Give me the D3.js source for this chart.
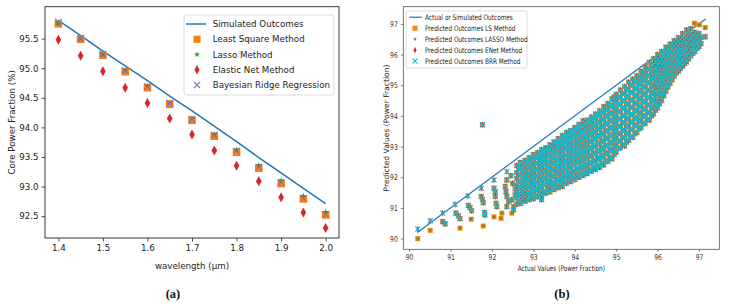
<!DOCTYPE html>
<html>
<head>
<meta charset="utf-8">
<script src="https://cdn.jsdelivr.net/npm/d3@7"></script>
<style>
  body { margin: 0; background: #fff; }
  svg { display: block; }
  text { font-family: "DejaVu Sans", sans-serif; }
</style>
</head>
<body>
<div id="chart"></div>
<script>
// ---- panel (a) data ----
const wavelengths = [1.40, 1.45, 1.50, 1.55, 1.60, 1.65, 1.70, 1.75, 1.80, 1.85, 1.90, 1.95, 2.00];
const simulated   = [95.81, 95.55, 95.29, 95.04, 94.79, 94.53, 94.28, 94.02, 93.76, 93.49, 93.23, 92.97, 92.71];
const leastSquare = [95.75, 95.49, 95.22, 94.94, 94.67, 94.39, 94.12, 93.85, 93.58, 93.31, 93.05, 92.79, 92.52];
const lassoVals   = [95.76, 95.50, 95.23, 94.96, 94.70, 94.42, 94.15, 93.88, 93.62, 93.36, 93.10, 92.84, 92.57];
const elasticNet  = [95.48, 95.21, 94.95, 94.67, 94.41, 94.15, 93.88, 93.61, 93.35, 93.09, 92.82, 92.56, 92.30];
const bayesRidge  = [95.78, 95.51, 95.24, 94.96, 94.69, 94.41, 94.14, 93.87, 93.60, 93.33, 93.07, 92.80, 92.53];
const xTicksA = [1.4, 1.5, 1.6, 1.7, 1.8, 1.9, 2.0];
const yTicksA = [92.5, 93.0, 93.5, 94.0, 94.5, 95.0, 95.5];

// ---- panel (b) data ----
// ideal line (actual = predicted)
const idealLine = [[90.2, 90.2], [97.16, 97.16]];
// dense band: [actual, [predicted...]] where all four methods agree
const bandColumns = [
  [92.60, [91.12, 91.33, 91.55, 91.74, 91.96, 92.15, 92.38]],
  [92.70, [91.15, 91.24, 91.45, 91.66, 91.85, 92.07, 92.27, 92.45]],
  [92.80, [91.22, 91.38, 91.58, 91.79, 91.98, 92.20, 92.40, 92.55]],
  [92.90, [91.27, 91.47, 91.68, 91.88, 92.09, 92.30, 92.48, 92.64]],
  [93.00, [91.30, 91.52, 91.72, 91.95, 92.14, 92.36, 92.55, 92.74]],
  [93.10, [91.36, 91.60, 91.82, 92.03, 92.24, 92.45, 92.64, 92.80]],
  [93.20, [91.27, 91.42, 91.66, 91.88, 92.10, 92.30, 92.52, 92.72, 92.90]],
  [93.30, [91.48, 91.75, 91.96, 92.18, 92.40, 92.60, 92.80, 92.96]],
  [93.40, [91.52, 91.70, 91.90, 92.12, 92.32, 92.52, 92.72, 92.90, 93.05]],
  [93.50, [91.60, 91.82, 92.04, 92.25, 92.46, 92.66, 92.86, 93.06, 93.15]],
  [93.60, [91.66, 91.90, 92.12, 92.34, 92.56, 92.76, 92.96, 93.14, 93.26]],
  [93.70, [91.70, 91.94, 92.18, 92.40, 92.60, 92.82, 93.02, 93.22, 93.36]],
  [93.80, [91.80, 92.02, 92.26, 92.48, 92.70, 92.92, 93.12, 93.30, 93.46]],
  [93.90, [91.86, 92.08, 92.32, 92.54, 92.76, 92.98, 93.20, 93.38, 93.52]],
  [94.00, [91.92, 92.16, 92.40, 92.62, 92.84, 93.06, 93.28, 93.46, 93.62]],
  [94.10, [92.00, 92.24, 92.48, 92.70, 92.92, 93.14, 93.36, 93.56, 93.72]],
  [94.20, [92.06, 92.30, 92.54, 92.78, 93.00, 93.22, 93.44, 93.64, 93.84]],
  [94.30, [92.12, 92.36, 92.60, 92.84, 93.06, 93.30, 93.52, 93.72, 93.86]],
  [94.40, [92.20, 92.44, 92.68, 92.92, 93.16, 93.38, 93.60, 93.80, 93.96]],
  [94.50, [92.26, 92.50, 92.76, 93.00, 93.24, 93.46, 93.68, 93.90, 94.06]],
  [94.60, [92.32, 92.58, 92.84, 93.08, 93.32, 93.56, 93.78, 94.00, 94.16]],
  [94.70, [92.40, 92.66, 92.92, 93.16, 93.40, 93.64, 93.88, 94.10, 94.30]],
  [94.80, [92.52, 92.76, 93.02, 93.26, 93.50, 93.74, 93.98, 94.20, 94.40]],
  [94.90, [92.60, 92.86, 93.10, 93.36, 93.60, 93.84, 94.08, 94.32, 94.55]],
  [95.00, [92.82, 93.06, 93.30, 93.54, 93.78, 94.02, 94.26, 94.50, 94.70]],
  [95.10, [92.96, 93.18, 93.42, 93.66, 93.90, 94.14, 94.38, 94.62, 94.84]],
  [95.20, [93.02, 93.28, 93.52, 93.76, 94.00, 94.24, 94.48, 94.72, 94.95]],
  [95.30, [93.20, 93.44, 93.68, 93.92, 94.16, 94.40, 94.64, 94.88, 95.10]],
  [95.40, [93.30, 93.56, 93.80, 94.04, 94.28, 94.52, 94.76, 95.00, 95.20]],
  [95.50, [93.46, 93.70, 93.94, 94.18, 94.42, 94.66, 94.90, 95.12, 95.30]],
  [95.60, [93.62, 93.86, 94.10, 94.34, 94.58, 94.82, 95.04, 95.26, 95.45]],
  [95.70, [93.76, 94.00, 94.24, 94.48, 94.72, 94.96, 95.20, 95.42, 95.60]],
  [95.80, [93.86, 94.10, 94.36, 94.60, 94.84, 95.08, 95.32, 95.54, 95.74]],
  [95.90, [94.06, 94.30, 94.54, 94.78, 95.02, 95.26, 95.48, 95.68, 95.86]],
  [96.00, [94.26, 94.50, 94.74, 94.98, 95.22, 95.44, 95.64, 95.84, 96.00]],
  [96.10, [94.50, 94.74, 94.98, 95.20, 95.42, 95.64, 95.84, 96.10]],
  [96.20, [94.80, 95.02, 95.24, 95.46, 95.66, 95.86, 96.06, 96.24]],
  [96.30, [95.06, 95.28, 95.50, 95.70, 95.90, 96.10, 96.34]],
  [96.40, [95.30, 95.50, 95.72, 95.92, 96.12, 96.30, 96.45]],
  [96.50, [95.46, 95.66, 95.86, 96.06, 96.26, 96.44, 96.55]],
  [96.60, [95.62, 95.82, 96.02, 96.22, 96.42, 96.68]],
  [96.70, [95.76, 95.96, 96.16, 96.36, 96.56, 96.80]],
  [96.80, [95.96, 96.16, 96.36, 96.56, 96.84]],
  [96.90, [96.10, 96.30, 96.50, 96.72]],
  [97.00, [96.26, 96.46, 96.68]],
  [97.15, [96.58]]
];
// more samples of the band, read between the columns above
const bandColumnsMid = [
  [92.65, [91.20, 91.42, 91.64, 91.86, 92.06, 92.28]],
  [92.75, [91.30, 91.52, 91.74, 91.95, 92.16, 92.36]],
  [92.85, [91.30, 91.50, 91.70, 91.92, 92.12, 92.34, 92.50]],
  [92.95, [91.38, 91.58, 91.80, 92.00, 92.20, 92.42, 92.60]],
  [93.05, [91.42, 91.64, 91.84, 92.06, 92.26, 92.46, 92.66]],
  [93.15, [91.50, 91.72, 91.94, 92.16, 92.36, 92.58, 92.76]],
  [93.25, [91.54, 91.78, 92.00, 92.22, 92.44, 92.64, 92.84]],
  [93.35, [91.62, 91.86, 92.08, 92.30, 92.50, 92.72, 92.90]],
  [93.45, [91.62, 91.80, 92.02, 92.24, 92.44, 92.64, 92.84, 93.00]],
  [93.55, [91.72, 91.94, 92.16, 92.36, 92.56, 92.78, 92.98, 93.12]],
  [93.65, [91.78, 92.02, 92.24, 92.46, 92.66, 92.86, 93.06, 93.22]],
  [93.75, [91.84, 92.08, 92.30, 92.52, 92.72, 92.94, 93.14, 93.32]],
  [93.85, [91.92, 92.14, 92.38, 92.60, 92.82, 93.04, 93.24, 93.42]],
  [93.95, [91.98, 92.20, 92.44, 92.66, 92.88, 93.10, 93.32, 93.50]],
  [94.05, [92.06, 92.28, 92.52, 92.74, 92.96, 93.18, 93.40, 93.60]],
  [94.15, [92.12, 92.36, 92.60, 92.82, 93.04, 93.26, 93.48, 93.68]],
  [94.25, [92.18, 92.42, 92.66, 92.90, 93.12, 93.34, 93.56, 93.76]],
  [94.35, [92.24, 92.48, 92.72, 92.96, 93.18, 93.42, 93.64, 93.84]],
  [94.45, [92.32, 92.56, 92.80, 93.04, 93.28, 93.50, 93.72, 93.94]],
  [94.55, [92.38, 92.64, 92.88, 93.12, 93.36, 93.58, 93.80, 94.02]],
  [94.65, [92.46, 92.72, 92.96, 93.20, 93.44, 93.68, 93.90, 94.12]],
  [94.75, [92.54, 92.80, 93.04, 93.28, 93.52, 93.76, 94.00, 94.22]],
  [94.85, [92.64, 92.90, 93.14, 93.38, 93.62, 93.86, 94.10, 94.34]],
  [94.95, [92.74, 92.98, 93.22, 93.46, 93.70, 93.94, 94.18, 94.42, 94.62]],
  [95.05, [92.94, 93.18, 93.42, 93.66, 93.90, 94.14, 94.38, 94.60]],
  [95.15, [93.06, 93.30, 93.54, 93.78, 94.02, 94.26, 94.50, 94.74]],
  [95.25, [93.14, 93.40, 93.64, 93.88, 94.12, 94.36, 94.60, 94.84]],
  [95.35, [93.32, 93.56, 93.80, 94.04, 94.28, 94.52, 94.76, 95.00]],
  [95.45, [93.42, 93.68, 93.92, 94.16, 94.40, 94.64, 94.88, 95.10]],
  [95.55, [93.58, 93.82, 94.06, 94.30, 94.54, 94.78, 95.02, 95.22]],
  [95.65, [93.74, 93.98, 94.22, 94.46, 94.70, 94.94, 95.16, 95.36]],
  [95.75, [93.88, 94.12, 94.36, 94.60, 94.84, 95.08, 95.30, 95.52]],
  [95.85, [94.00, 94.24, 94.48, 94.72, 94.96, 95.20, 95.42, 95.62]],
  [95.95, [94.18, 94.42, 94.66, 94.90, 95.14, 95.36, 95.58, 95.76]],
  [96.05, [94.40, 94.64, 94.88, 95.10, 95.32, 95.54, 95.74, 95.94]],
  [96.15, [94.66, 94.90, 95.12, 95.34, 95.56, 95.76, 95.96]],
  [96.25, [94.94, 95.16, 95.38, 95.60, 95.80, 96.00, 96.18]],
  [96.35, [95.18, 95.40, 95.62, 95.82, 96.02, 96.22]],
  [96.45, [95.40, 95.60, 95.80, 96.00, 96.20, 96.36]],
  [96.55, [95.54, 95.74, 95.94, 96.14, 96.34, 96.50]],
  [96.65, [95.70, 95.90, 96.10, 96.30, 96.50]],
  [96.75, [95.86, 96.06, 96.26, 96.46, 96.66]],
  [96.85, [96.04, 96.24, 96.44, 96.64]],
  [96.95, [96.20, 96.40, 96.60]],
  [97.05, [96.36, 96.56]]
];
// sparse points in the lower-left where all methods agree
const sharedPoints = [
  [90.81, 90.55], [90.87, 90.48], [91.13, 90.83], [91.19, 90.74], [91.23, 90.65],
  [91.43, 91.08], [91.47, 91.01], [91.51, 90.91], [91.74, 91.37], [91.77, 91.28],
  [91.79, 91.17], [91.82, 90.85], [91.83, 90.77], [91.77, 93.71], [92.05, 91.64],
  [92.08, 91.53], [92.08, 91.37], [92.10, 91.15], [92.12, 91.04], [92.36, 91.91],
  [92.32, 91.70], [92.34, 91.53], [92.36, 91.37], [92.40, 91.21], [92.36, 91.04],
  [92.48, 91.26], [92.52, 91.04], [92.52, 90.94], [92.56, 91.42], [92.46, 92.05],
  [92.50, 91.80], [92.56, 91.62], [92.68, 92.48]
];
// points only for LS / LASSO (squares + stars)
const lsOnlyPoints = [
  [90.21, 90.00], [90.51, 90.27], [91.23, 90.34], [91.50, 90.63], [91.79, 90.41],
  [92.05, 90.71], [92.24, 90.83], [92.22, 90.66], [92.48, 90.83],
  [96.89, 97.02], [97.01, 96.97], [97.15, 96.88], [96.72, 96.74], [96.85, 96.67],
  [96.99, 96.57], [96.54, 96.48], [96.69, 96.37], [96.82, 96.28], [96.38, 96.21],
  [96.50, 96.10], [96.18, 95.93], [96.32, 95.85]
];
// points only for ENet / BRR (diamonds + crosses)
const enOnlyPoints = [
  [90.21, 90.31], [90.51, 90.58], [90.81, 90.83], [91.11, 91.11],
  [91.42, 91.39], [91.74, 91.64], [92.05, 91.91], [92.36, 92.18]
];
const xTicksB = [90, 91, 92, 93, 94, 95, 96, 97];
const yTicksB = [90, 91, 92, 93, 94, 95, 96, 97];

// ---- colours ----
const C = { blue: "#1f77b4", orange: "#ff7f0e", green: "#2ca02c", red: "#d62728", purple: "#9467bd", cyan: "#17becf" };

const svg = d3.select("#chart").append("svg").attr("width", 729).attr("height", 304);

// marker shapes
function squarePath(s) { return `M${-s},${-s}H${s}V${s}H${-s}Z`; }
function diamondPath(w, h) { return `M0,${-h}L${w},0L0,${h}L${-w},0Z`; }
function crossPath(s) { return `M${-s},${-s}L${s},${s}M${-s},${s}L${s},${-s}`; }
function starPath(r) { return d3.symbol(d3.symbolStar, r * r / 0.89)(); }

function drawMarkers(g, pts, x, y, d, fill, stroke, sw) {
  g.append("g").selectAll("path").data(pts).join("path")
    .attr("transform", p => `translate(${x(p[0])},${y(p[1])})`)
    .attr("d", d)
    .attr("fill", fill)
    .attr("stroke", stroke)
    .attr("stroke-width", sw);
}

// ---------------- panel (a) ----------------
const boxA = { left: 45, right: 339, top: 6.7, bottom: 238 };
const xA = d3.scaleLinear().domain([1.37, 2.03]).range([boxA.left, boxA.right]);
const yA = d3.scaleLinear().domain([92.13, 96.04]).range([boxA.bottom, boxA.top]);
const gA = svg.append("g");

const axA = gA.append("g").attr("transform", `translate(0,${boxA.bottom})`)
  .call(d3.axisBottom(xA).tickValues(xTicksA).tickFormat(d3.format(".1f")).tickSize(3.5).tickPadding(3));
const ayA = gA.append("g").attr("transform", `translate(${boxA.left},0)`)
  .call(d3.axisLeft(yA).tickValues(yTicksA).tickFormat(d3.format(".1f")).tickSize(3.5).tickPadding(3));
[axA, ayA].forEach(a => {
  a.select(".domain").remove();
  a.selectAll("line").attr("stroke", "#222").attr("stroke-width", 0.8);
  a.selectAll("text").attr("fill", "#222").style("font-size", "8.7px").style("font-family", "DejaVu Sans");
});

const aPts = (vals) => wavelengths.map((w, i) => [w, vals[i]]);
gA.append("path").datum(aPts(simulated))
  .attr("fill", "none").attr("stroke", C.blue).attr("stroke-width", 1.5)
  .attr("d", d3.line().x(d => xA(d[0])).y(d => yA(d[1])));
drawMarkers(gA, aPts(leastSquare), xA, yA, squarePath(3.8), C.orange, "none", 0);
drawMarkers(gA, aPts(lassoVals), xA, yA, starPath(3.4), C.green, "none", 0);
drawMarkers(gA, aPts(elasticNet), xA, yA, diamondPath(2.8, 5), C.red, "none", 0);
drawMarkers(gA, aPts(bayesRidge), xA, yA, crossPath(3.2), "none", C.purple, 1.1);

gA.append("rect").attr("x", boxA.left).attr("y", boxA.top)
  .attr("width", boxA.right - boxA.left).attr("height", boxA.bottom - boxA.top)
  .attr("fill", "none").attr("stroke", "#222").attr("stroke-width", 0.9);

// legend (a)
const legA = gA.append("g");
legA.append("rect").attr("x", 184).attr("y", 15).attr("width", 150).attr("height", 80).attr("rx", 2.5)
  .attr("fill", "#fff").attr("fill-opacity", 0.8).attr("stroke", "#cfcfcf").attr("stroke-width", 0.8);
const legItemsA = [
  { label: "Simulated Outcomes", kind: "line" },
  { label: "Least Square Method", kind: "square" },
  { label: "Lasso Method", kind: "star" },
  { label: "Elastic Net Method", kind: "diamond" },
  { label: "Bayesian Ridge Regression", kind: "cross" }
];
legItemsA.forEach((it, i) => {
  const cy = 24 + i * 15.25;
  const g = legA.append("g");
  if (it.kind === "line") g.append("line").attr("x1", 186).attr("x2", 206).attr("y1", cy).attr("y2", cy).attr("stroke", C.blue).attr("stroke-width", 1.5);
  if (it.kind === "square") g.append("path").attr("transform", `translate(197,${cy})`).attr("d", squarePath(3.6)).attr("fill", C.orange);
  if (it.kind === "star") g.append("path").attr("transform", `translate(197,${cy})`).attr("d", starPath(3.2)).attr("fill", C.green);
  if (it.kind === "diamond") g.append("path").attr("transform", `translate(197,${cy})`).attr("d", diamondPath(2.6, 4.8)).attr("fill", C.red);
  if (it.kind === "cross") g.append("path").attr("transform", `translate(197,${cy})`).attr("d", crossPath(3)).attr("fill", "none").attr("stroke", C.purple).attr("stroke-width", 1.1);
  g.append("text").attr("x", 212.7).attr("y", cy + 3.2).style("font-size", "8.7px").attr("fill", "#222").text(it.label);
});

gA.append("text").attr("x", (boxA.left + boxA.right) / 2).attr("y", 269).attr("text-anchor", "middle")
  .style("font-size", "8.7px").attr("fill", "#222").text("wavelength (µm)");
gA.append("text").attr("transform", `translate(15,${(boxA.top + boxA.bottom) / 2}) rotate(-90)`).attr("text-anchor", "middle")
  .style("font-size", "8.7px").attr("fill", "#222").text("Core Power Fraction (%)");
gA.append("text").attr("x", 173).attr("y", 298).attr("text-anchor", "middle")
  .style("font-family", "Liberation Serif").style("font-size", "12.5px").style("font-weight", "bold").attr("fill", "#111").text("(a)");

// ---------------- panel (b) ----------------
const boxB = { left: 403.3, right: 719.3, top: 6.7, bottom: 249.3 };
const xB = d3.scaleLinear().domain([89.86, 97.49]).range([boxB.left, boxB.right]);
const yB = d3.scaleLinear().domain([89.65, 97.56]).range([boxB.bottom, boxB.top]);
const squeeze = 0.76; // panel (b) text is horizontally condensed
const gB = svg.append("g");

const axB = gB.append("g").attr("transform", `translate(0,${boxB.bottom})`)
  .call(d3.axisBottom(xB).tickValues(xTicksB).tickFormat(d3.format("d")).tickSize(2.5).tickPadding(2.5));
const ayB = gB.append("g").attr("transform", `translate(${boxB.left},0)`)
  .call(d3.axisLeft(yB).tickValues(yTicksB).tickFormat(d3.format("d")).tickSize(2.5).tickPadding(2.5));
[axB, ayB].forEach(a => {
  a.select(".domain").remove();
  a.selectAll("line").attr("stroke", "#444").attr("stroke-width", 0.7);
  a.selectAll("text").attr("fill", "#333").style("font-size", "8px").style("font-family", "DejaVu Sans")
    .attr("transform", `scale(${squeeze},1)`);
});
ayB.selectAll("text").attr("x", -5.5 / squeeze);

const toPts = cols => cols.flatMap(([x, ys]) => ys.map(y => [x, y]));
const bandPoints = toPts(bandColumns).concat(toPts(bandColumnsMid));
const allShared = bandPoints.concat(sharedPoints);
const lsPts = allShared.concat(lsOnlyPoints);
const enPts = allShared.concat(enOnlyPoints);

gB.append("path").datum(idealLine)
  .attr("fill", "none").attr("stroke", C.blue).attr("stroke-width", 1.2)
  .attr("d", d3.line().x(d => xB(d[0])).y(d => yB(d[1])));
drawMarkers(gB, lsPts, xB, yB, squarePath(2.5), C.orange, "none", 0);
drawMarkers(gB, lsPts, xB, yB, starPath(2.1), C.green, "none", 0);
drawMarkers(gB, enPts, xB, yB, diamondPath(1.4, 3.4), C.red, "none", 0);
drawMarkers(gB, enPts, xB, yB, crossPath(2.5), "none", C.cyan, 1.15);

gB.append("rect").attr("x", boxB.left).attr("y", boxB.top)
  .attr("width", boxB.right - boxB.left).attr("height", boxB.bottom - boxB.top)
  .attr("fill", "none").attr("stroke", "#555").attr("stroke-width", 0.8);

// legend (b)
const legB = gB.append("g");
legB.append("rect").attr("x", 406).attr("y", 11).attr("width", 121).attr("height", 57).attr("rx", 2)
  .attr("fill", "#fff").attr("fill-opacity", 0.8).attr("stroke", "#cfcfcf").attr("stroke-width", 0.7);
const legItemsB = [
  { label: "Actual or Simulated Outcomes", kind: "line" },
  { label: "Predicted Outcomes LS Method", kind: "square" },
  { label: "Predicted Outcomes LASSO Method", kind: "star" },
  { label: "Predicted Outcomes ENet Method", kind: "diamond" },
  { label: "Predicted Outcomes BRR Method", kind: "cross" }
];
legItemsB.forEach((it, i) => {
  const cy = 17.2 + i * 11;
  const g = legB.append("g");
  if (it.kind === "line") g.append("line").attr("x1", 409.3).attr("x2", 421.7).attr("y1", cy).attr("y2", cy).attr("stroke", C.blue).attr("stroke-width", 1.2);
  if (it.kind === "square") g.append("path").attr("transform", `translate(415,${cy})`).attr("d", squarePath(2.5)).attr("fill", C.orange);
  if (it.kind === "star") g.append("path").attr("transform", `translate(415,${cy})`).attr("d", starPath(2.1)).attr("fill", C.green);
  if (it.kind === "diamond") g.append("path").attr("transform", `translate(415,${cy})`).attr("d", diamondPath(1.4, 3.4)).attr("fill", C.red);
  if (it.kind === "cross") g.append("path").attr("transform", `translate(415,${cy})`).attr("d", crossPath(2.5)).attr("fill", "none").attr("stroke", C.cyan).attr("stroke-width", 1.15);
  g.append("text").attr("transform", `translate(425,${cy + 2.6}) scale(${squeeze},1)`)
    .style("font-size", "7.6px").attr("fill", "#222").text(it.label);
});

gB.append("text").attr("transform", `translate(${(boxB.left + boxB.right) / 2},271) scale(${squeeze},1)`).attr("text-anchor", "middle")
  .style("font-size", "7.6px").attr("fill", "#222").text("Actual Values (Power Fraction)");
gB.append("text").attr("transform", `translate(388.5,${(boxB.top + boxB.bottom) / 2}) rotate(-90)`).attr("text-anchor", "middle")
  .style("font-size", "7.6px").attr("fill", "#222").text("Predicted Values (Power Fraction)");
gB.append("text").attr("x", 562).attr("y", 298).attr("text-anchor", "middle")
  .style("font-family", "Liberation Serif").style("font-size", "12.5px").style("font-weight", "bold").attr("fill", "#111").text("(b)");
</script>
</body>
</html>
